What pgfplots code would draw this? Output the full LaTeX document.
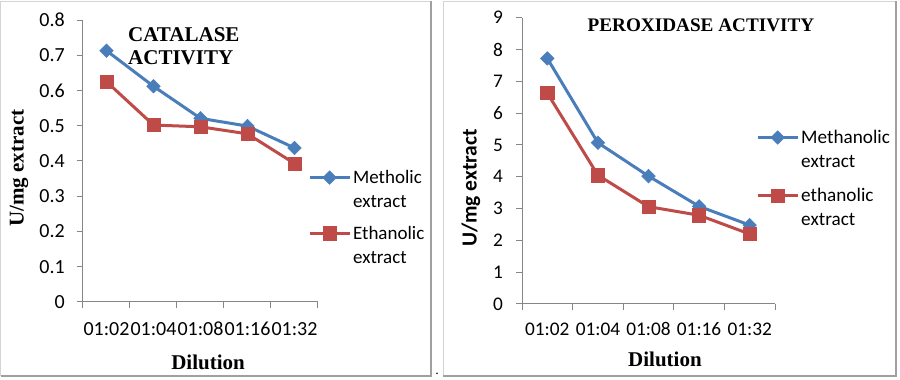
\documentclass[border=0pt]{standalone}
\usepackage{fontspec}
\setmainfont{Liberation Serif}
\newfontfamily\calfont{Carlito}
\newfontfamily\calbold{Carlito Bold}
\usepackage{pgfplots}
\pgfplotsset{compat=1.18}

\definecolor{serblue}{HTML}{4A7EBB}
\definecolor{serred}{HTML}{BE4B48}
\definecolor{axisgray}{HTML}{868686}
\definecolor{frameLight}{HTML}{D4D4D4}
\definecolor{frameDark}{HTML}{A0A0A0}

% catalase activity (U/mg extract) per dilution
\pgfplotstableread{
x  meth   eth
0  0.713  0.625
1  0.612  0.502
2  0.521  0.497
3  0.499  0.477
4  0.437  0.393
}\catalase
% peroxidase activity (U/mg extract) per dilution
\pgfplotstableread{
x  meth   eth
0  7.72   6.63
1  5.07   4.05
2  4.02   3.06
3  3.07   2.79
4  2.48   2.20
}\peroxidase

\pgfplotsset{
  excelline/.style={
    scale only axis,
    axis lines=left,
    axis line style={draw=axisgray, line width=1pt, -},
    tick style={draw=axisgray, line width=1pt},
    tick align=outside,
    major tick length=6pt,
    enlargelimits=false,
    clip=false,
    xmin=-0.5, xmax=4.5,
    xtick={-0.5,0.5,1.5,2.5,3.5,4.5},
    xticklabels={},
    extra x ticks={0,1,2,3,4},
    extra x tick labels={01:02,01:04,01:08,01:16,01:32},
    extra x tick style={major tick length=0pt},
    legend cell align=left,
    % legend line sits level with the first line of its two-line entry
    legend image code/.code={%
      \draw[mark repeat=2,mark phase=2,yshift=12pt,##1] plot coordinates {(0pt,0pt) (20pt,0pt) (40pt,0pt)};},
    label style={font=\bfseries\fontsize{21}{24}\selectfont},
  },
  bluesq/.style={color=serblue, line width=3pt, mark=square*, mark size=4.8pt,
    mark options={rotate=45, solid, line width=0.5pt, fill=serblue}},
  redsq/.style={color=serred, line width=3pt, mark=square*, mark size=6.6pt,
    mark options={solid, line width=0.5pt, fill=serred}},
}

\begin{document}
\begin{tikzpicture}[x=1pt,y=1pt]
\useasboundingbox (0,0) rectangle (900,380);
\fill[white] (0,0) rectangle (900,380);

% panel frames
\draw[frameLight, line width=1pt] (0.5,4) -- (0.5,378.5) -- (431,378.5);
\draw[frameDark, line width=1.6pt] (431,378.5) -- (431,4) -- (0.5,4);
\draw[frameLight, line width=1pt] (443,4) -- (443,378.5) -- (896,378.5);
\draw[frameDark, line width=1.6pt] (896,378.5) -- (896,4) -- (443,4);
\node[anchor=base, inner sep=0pt, font=\fontsize{14}{14}\selectfont] at (437,5) {.};

% left panel: catalase
\begin{axis}[excelline,
  at={(83pt,78pt)}, anchor=south west,
  width=235pt, height=282pt,
  ymin=0, ymax=0.8,
  ytick={0,0.1,0.2,0.3,0.4,0.5,0.6,0.7,0.8},
  yticklabels={0,0.1,0.2,0.3,0.4,0.5,0.6,0.7,0.8},
  tick label style={font=\calfont\fontsize{20}{24}\selectfont},
  yticklabel style={anchor=east, inner sep=0pt, xshift=-12pt},
  xticklabel style={anchor=north, inner sep=0pt, yshift=-20pt},
  xlabel={Dilution},
  xlabel style={at={(axis description cs:0.532,-0.2411)}, anchor=base},
  ylabel={U/mg extract},
  ylabel style={at={(axis description cs:-0.2723,0.475)}, anchor=center},
  legend style={draw=none, fill=none, inner sep=0pt,
    at={(axis description cs:0.957,0.475)}, anchor=north west,
    font=\calfont\fontsize{19}{24}\selectfont,
    cells={align=left}, row sep=13pt},
]
\addplot[bluesq] table[x=x, y=meth] {\catalase};
\addlegendentry{Metholic\\extract}
\addplot[redsq] table[x=x, y=eth] {\catalase};
\addlegendentry{Ethanolic\\extract}
\end{axis}

\node[anchor=north west, align=left, inner sep=0pt,
  font=\bfseries\fontsize{21}{23.5}\selectfont] at (128,353) {CATALASE\\ACTIVITY};

% right panel: peroxidase
\begin{axis}[excelline,
  at={(522pt,76pt)}, anchor=south west,
  width=253pt, height=286.3pt,
  ymin=0, ymax=9,
  ytick={0,1,2,3,4,5,6,7,8,9},
  yticklabels={0,1,2,3,4,5,6,7,8,9},
  tick label style={font=\calfont\fontsize{19.3}{24}\selectfont},
  yticklabel style={anchor=east, inner sep=0pt, xshift=-13pt},
  xticklabel style={anchor=north, inner sep=0pt, yshift=-18.5pt},
  xlabel={Dilution},
  xlabel style={at={(axis description cs:0.565,-0.2166)}, anchor=base},
  ylabel={\calbold\fontsize{21.5}{24}\selectfont U/mg extract},
  ylabel style={at={(axis description cs:-0.2016,0.405)}, anchor=center},
  legend style={draw=none, fill=none, inner sep=0pt,
    at={(axis description cs:0.925,0.615)}, anchor=north west,
    font=\calfont\fontsize{19.2}{24}\selectfont,
    cells={align=left}, row sep=15pt},
]
\addplot[bluesq] table[x=x, y=meth] {\peroxidase};
\addlegendentry{Methanolic\\extract}
\addplot[redsq] table[x=x, y=eth] {\peroxidase};
\addlegendentry{ethanolic\\extract}
\end{axis}

\node[anchor=base, inner sep=0pt, font=\bfseries\fontsize{19.2}{22}\selectfont]
  at (701,348) {PEROXIDASE ACTIVITY};
\end{tikzpicture}
\end{document}
